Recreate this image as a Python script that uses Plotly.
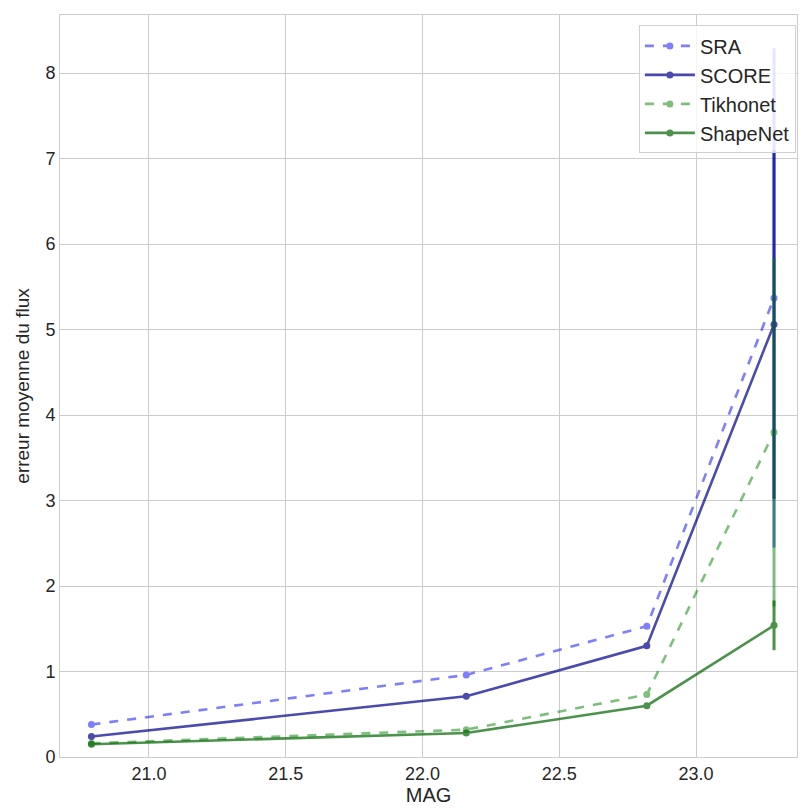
import plotly.graph_objects as go

mag = [20.79, 22.16, 22.82, 23.285]
series = ["SRA", "SCORE", "Tikhonet", "ShapeNet"]
sra = [0.38, 0.96, 1.53, 5.37]
score = [0.24, 0.71, 1.30, 5.06]
tikhonet = [0.16, 0.32, 0.73, 3.80]
shapenet = [0.15, 0.28, 0.60, 1.54]
sra_err = [0.0, 0.0, 0.0, 2.92]
score_err = [0.0, 0.0, 0.0, 2.04]
tikhonet_err = [0.0, 0.0, 0.0, 2.04]
shapenet_err = [0.0, 0.0, 0.0, 0.29]

colors = ["blue", "darkblue", "green", "darkgreen"]
opac = [0.5, 0.7, 0.5, 0.7]
dashes = ["dash", "solid", "dash", "solid"]
vals = [sra, score, tikhonet, shapenet]
errs = [sra_err, score_err, tikhonet_err, shapenet_err]

fig = go.Figure()
for name, v, e, c, o, d in zip(series, vals, errs, colors, opac, dashes):
    fig.add_trace(go.Scatter(
        x=mag, y=v, name=name, mode="lines+markers", legendgroup=name,
        line=dict(color=c, width=2.6, dash=d),
        marker=dict(color=c, size=7),
        opacity=o,
        error_y=dict(type="data", array=e, visible=True, color=c, thickness=3, width=0),
    ))

fig.update_layout(
    width=800, height=811,
    margin=dict(l=60, r=3, t=15, b=54),
    plot_bgcolor="white", paper_bgcolor="white",
    font=dict(family="Liberation Sans, Arial, sans-serif", size=17, color="#262626"),
    showlegend=True,
    legend=dict(x=0.9985, y=0.986, xanchor="right", yanchor="top",
                bgcolor="rgba(255,255,255,0.8)", bordercolor="#d0d0d0", borderwidth=1,
                font=dict(size=20, color="#262626"), itemwidth=50, tracegroupgap=0),
)
fig.update_xaxes(
    range=[20.675, 23.369], tickvals=[21.0, 21.5, 22.0, 22.5, 23.0],
    ticktext=["21.0", "21.5", "22.0", "22.5", "23.0"],
    showgrid=True, gridcolor="#cccccc", gridwidth=1,
    showline=True, linecolor="#cccccc", linewidth=1, mirror=True,
    zeroline=False, ticks="", automargin=False,
    tickfont=dict(size=18),
    title=dict(text="MAG", font=dict(size=20), standoff=3),
)
fig.update_yaxes(
    range=[0, 8.68], tickvals=[0, 1, 2, 3, 4, 5, 6, 7, 8],
    showgrid=True, gridcolor="#cccccc", gridwidth=1,
    showline=True, linecolor="#cccccc", linewidth=1, mirror=True,
    zeroline=False, ticks="", automargin=False,
    tickfont=dict(size=18),
    title=dict(text="erreur moyenne du flux", font=dict(size=19), standoff=10),
)
fig.write_html("out.html", config={"displayModeBar": False})

with open("out.html", encoding="utf-8") as f:
    html = f.read()
html = html.replace("<head>", "<head><style>html,body{margin:0;padding:0;overflow:hidden}</style>", 1)
with open("out.html", "w", encoding="utf-8") as f:
    f.write(html)
